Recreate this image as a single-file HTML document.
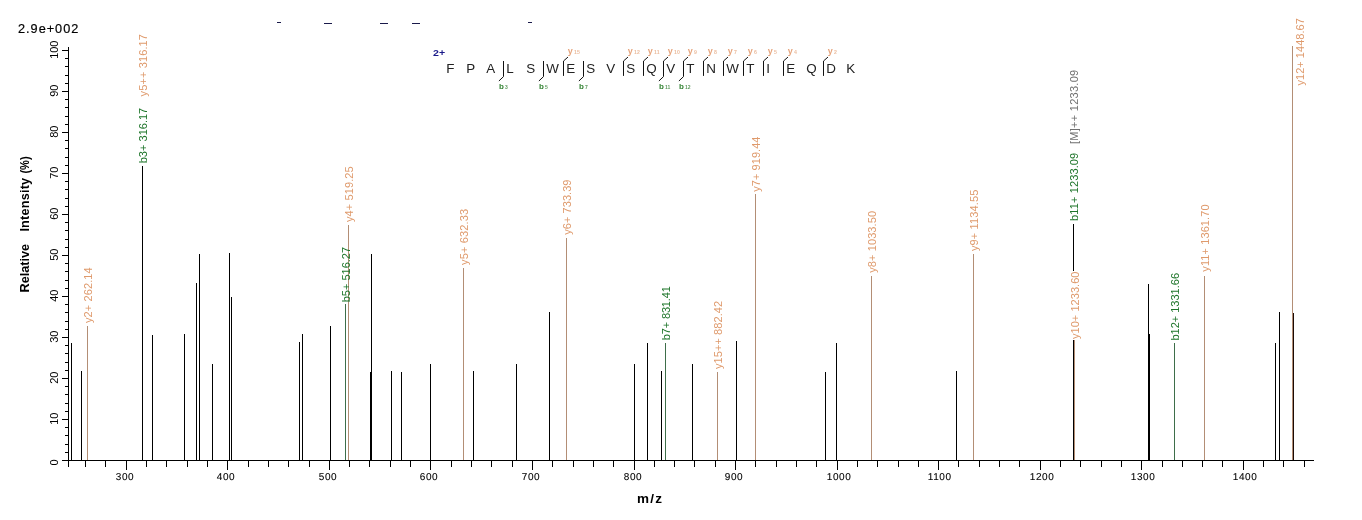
<!DOCTYPE html>
<html><head><meta charset="utf-8"><style>html,body{margin:0;padding:0;background:#fff;overflow:hidden}svg{display:block;will-change:transform}</style></head>
<body><svg width="1362" height="520" viewBox="0 0 1362 520" font-family='"Liberation Sans", sans-serif'>
<rect x="68" y="47" width="1" height="420" fill="#000"/>
<rect x="62" y="460" width="1252" height="1" fill="#000"/>
<rect x="62" y="460" width="6" height="1" fill="#000"/>
<rect x="65" y="452" width="3" height="1" fill="#000"/>
<rect x="65" y="444" width="3" height="1" fill="#000"/>
<rect x="65" y="435" width="3" height="1" fill="#000"/>
<rect x="65" y="427" width="3" height="1" fill="#000"/>
<rect x="62" y="419" width="6" height="1" fill="#000"/>
<rect x="65" y="411" width="3" height="1" fill="#000"/>
<rect x="65" y="403" width="3" height="1" fill="#000"/>
<rect x="65" y="394" width="3" height="1" fill="#000"/>
<rect x="65" y="386" width="3" height="1" fill="#000"/>
<rect x="62" y="378" width="6" height="1" fill="#000"/>
<rect x="65" y="370" width="3" height="1" fill="#000"/>
<rect x="65" y="362" width="3" height="1" fill="#000"/>
<rect x="65" y="353" width="3" height="1" fill="#000"/>
<rect x="65" y="345" width="3" height="1" fill="#000"/>
<rect x="62" y="337" width="6" height="1" fill="#000"/>
<rect x="65" y="329" width="3" height="1" fill="#000"/>
<rect x="65" y="321" width="3" height="1" fill="#000"/>
<rect x="65" y="312" width="3" height="1" fill="#000"/>
<rect x="65" y="304" width="3" height="1" fill="#000"/>
<rect x="62" y="296" width="6" height="1" fill="#000"/>
<rect x="65" y="288" width="3" height="1" fill="#000"/>
<rect x="65" y="280" width="3" height="1" fill="#000"/>
<rect x="65" y="271" width="3" height="1" fill="#000"/>
<rect x="65" y="263" width="3" height="1" fill="#000"/>
<rect x="62" y="255" width="6" height="1" fill="#000"/>
<rect x="65" y="247" width="3" height="1" fill="#000"/>
<rect x="65" y="239" width="3" height="1" fill="#000"/>
<rect x="65" y="230" width="3" height="1" fill="#000"/>
<rect x="65" y="222" width="3" height="1" fill="#000"/>
<rect x="62" y="214" width="6" height="1" fill="#000"/>
<rect x="65" y="206" width="3" height="1" fill="#000"/>
<rect x="65" y="198" width="3" height="1" fill="#000"/>
<rect x="65" y="189" width="3" height="1" fill="#000"/>
<rect x="65" y="181" width="3" height="1" fill="#000"/>
<rect x="62" y="173" width="6" height="1" fill="#000"/>
<rect x="65" y="165" width="3" height="1" fill="#000"/>
<rect x="65" y="157" width="3" height="1" fill="#000"/>
<rect x="65" y="148" width="3" height="1" fill="#000"/>
<rect x="65" y="140" width="3" height="1" fill="#000"/>
<rect x="62" y="132" width="6" height="1" fill="#000"/>
<rect x="65" y="124" width="3" height="1" fill="#000"/>
<rect x="65" y="116" width="3" height="1" fill="#000"/>
<rect x="65" y="107" width="3" height="1" fill="#000"/>
<rect x="65" y="99" width="3" height="1" fill="#000"/>
<rect x="62" y="91" width="6" height="1" fill="#000"/>
<rect x="65" y="83" width="3" height="1" fill="#000"/>
<rect x="65" y="75" width="3" height="1" fill="#000"/>
<rect x="65" y="66" width="3" height="1" fill="#000"/>
<rect x="65" y="58" width="3" height="1" fill="#000"/>
<rect x="62" y="50" width="6" height="1" fill="#000"/>
<rect x="85" y="461" width="1" height="6" fill="#000"/>
<rect x="105" y="461" width="1" height="6" fill="#000"/>
<rect x="126" y="461" width="1" height="9" fill="#000"/>
<rect x="146" y="461" width="1" height="6" fill="#000"/>
<rect x="166" y="461" width="1" height="6" fill="#000"/>
<rect x="187" y="461" width="1" height="6" fill="#000"/>
<rect x="207" y="461" width="1" height="6" fill="#000"/>
<rect x="227" y="461" width="1" height="9" fill="#000"/>
<rect x="248" y="461" width="1" height="6" fill="#000"/>
<rect x="268" y="461" width="1" height="6" fill="#000"/>
<rect x="288" y="461" width="1" height="6" fill="#000"/>
<rect x="309" y="461" width="1" height="6" fill="#000"/>
<rect x="329" y="461" width="1" height="9" fill="#000"/>
<rect x="349" y="461" width="1" height="6" fill="#000"/>
<rect x="369" y="461" width="1" height="6" fill="#000"/>
<rect x="390" y="461" width="1" height="6" fill="#000"/>
<rect x="410" y="461" width="1" height="6" fill="#000"/>
<rect x="430" y="461" width="1" height="9" fill="#000"/>
<rect x="451" y="461" width="1" height="6" fill="#000"/>
<rect x="471" y="461" width="1" height="6" fill="#000"/>
<rect x="491" y="461" width="1" height="6" fill="#000"/>
<rect x="512" y="461" width="1" height="6" fill="#000"/>
<rect x="532" y="461" width="1" height="9" fill="#000"/>
<rect x="552" y="461" width="1" height="6" fill="#000"/>
<rect x="573" y="461" width="1" height="6" fill="#000"/>
<rect x="593" y="461" width="1" height="6" fill="#000"/>
<rect x="613" y="461" width="1" height="6" fill="#000"/>
<rect x="634" y="461" width="1" height="9" fill="#000"/>
<rect x="654" y="461" width="1" height="6" fill="#000"/>
<rect x="674" y="461" width="1" height="6" fill="#000"/>
<rect x="694" y="461" width="1" height="6" fill="#000"/>
<rect x="715" y="461" width="1" height="6" fill="#000"/>
<rect x="735" y="461" width="1" height="9" fill="#000"/>
<rect x="755" y="461" width="1" height="6" fill="#000"/>
<rect x="776" y="461" width="1" height="6" fill="#000"/>
<rect x="796" y="461" width="1" height="6" fill="#000"/>
<rect x="816" y="461" width="1" height="6" fill="#000"/>
<rect x="837" y="461" width="1" height="9" fill="#000"/>
<rect x="857" y="461" width="1" height="6" fill="#000"/>
<rect x="877" y="461" width="1" height="6" fill="#000"/>
<rect x="898" y="461" width="1" height="6" fill="#000"/>
<rect x="918" y="461" width="1" height="6" fill="#000"/>
<rect x="938" y="461" width="1" height="9" fill="#000"/>
<rect x="958" y="461" width="1" height="6" fill="#000"/>
<rect x="979" y="461" width="1" height="6" fill="#000"/>
<rect x="999" y="461" width="1" height="6" fill="#000"/>
<rect x="1019" y="461" width="1" height="6" fill="#000"/>
<rect x="1040" y="461" width="1" height="9" fill="#000"/>
<rect x="1060" y="461" width="1" height="6" fill="#000"/>
<rect x="1080" y="461" width="1" height="6" fill="#000"/>
<rect x="1101" y="461" width="1" height="6" fill="#000"/>
<rect x="1121" y="461" width="1" height="6" fill="#000"/>
<rect x="1141" y="461" width="1" height="9" fill="#000"/>
<rect x="1162" y="461" width="1" height="6" fill="#000"/>
<rect x="1182" y="461" width="1" height="6" fill="#000"/>
<rect x="1202" y="461" width="1" height="6" fill="#000"/>
<rect x="1222" y="461" width="1" height="6" fill="#000"/>
<rect x="1243" y="461" width="1" height="9" fill="#000"/>
<rect x="1263" y="461" width="1" height="6" fill="#000"/>
<rect x="1283" y="461" width="1" height="6" fill="#000"/>
<rect x="1304" y="461" width="1" height="6" fill="#000"/>
<rect x="87" y="326" width="1" height="134" fill="#B38E75"/>
<rect x="348" y="225" width="1" height="235" fill="#B38E75"/>
<rect x="463" y="268" width="1" height="192" fill="#B38E75"/>
<rect x="566" y="238" width="1" height="222" fill="#B38E75"/>
<rect x="717" y="372" width="1" height="88" fill="#B38E75"/>
<rect x="755" y="194" width="1" height="266" fill="#B38E75"/>
<rect x="871" y="276" width="1" height="184" fill="#B38E75"/>
<rect x="973" y="254" width="1" height="206" fill="#B38E75"/>
<rect x="1074" y="340" width="1" height="120" fill="#B38E75"/>
<rect x="1204" y="276" width="1" height="184" fill="#B38E75"/>
<rect x="1292" y="46" width="1" height="414" fill="#B38E75"/>
<rect x="345" y="304" width="1" height="156" fill="#3E6E4A"/>
<rect x="665" y="343" width="1" height="117" fill="#3E6E4A"/>
<rect x="1174" y="343" width="1" height="117" fill="#3E6E4A"/>
<rect x="71" y="343" width="1" height="117" fill="#000"/>
<rect x="81" y="371" width="1" height="89" fill="#000"/>
<rect x="142" y="166" width="1" height="294" fill="#000"/>
<rect x="152" y="335" width="1" height="125" fill="#000"/>
<rect x="184" y="334" width="1" height="126" fill="#000"/>
<rect x="196" y="283" width="1" height="177" fill="#000"/>
<rect x="199" y="254" width="1" height="206" fill="#000"/>
<rect x="212" y="364" width="1" height="96" fill="#000"/>
<rect x="229" y="253" width="1" height="207" fill="#000"/>
<rect x="231" y="297" width="1" height="163" fill="#000"/>
<rect x="299" y="342" width="1" height="118" fill="#000"/>
<rect x="302" y="334" width="1" height="126" fill="#000"/>
<rect x="330" y="326" width="1" height="134" fill="#000"/>
<rect x="370" y="372" width="1" height="88" fill="#000"/>
<rect x="371" y="254" width="1" height="206" fill="#000"/>
<rect x="391" y="371" width="1" height="89" fill="#000"/>
<rect x="401" y="372" width="1" height="88" fill="#000"/>
<rect x="430" y="364" width="1" height="96" fill="#000"/>
<rect x="473" y="371" width="1" height="89" fill="#000"/>
<rect x="516" y="364" width="1" height="96" fill="#000"/>
<rect x="549" y="312" width="1" height="148" fill="#000"/>
<rect x="634" y="364" width="1" height="96" fill="#000"/>
<rect x="647" y="343" width="1" height="117" fill="#000"/>
<rect x="661" y="371" width="1" height="89" fill="#000"/>
<rect x="692" y="364" width="1" height="96" fill="#000"/>
<rect x="736" y="341" width="1" height="119" fill="#000"/>
<rect x="825" y="372" width="1" height="88" fill="#000"/>
<rect x="836" y="343" width="1" height="117" fill="#000"/>
<rect x="956" y="371" width="1" height="89" fill="#000"/>
<rect x="1073" y="224" width="1" height="236" fill="#000"/>
<rect x="1148" y="284" width="1" height="176" fill="#000"/>
<rect x="1149" y="334" width="1" height="126" fill="#000"/>
<rect x="1275" y="343" width="1" height="117" fill="#000"/>
<rect x="1279" y="312" width="1" height="148" fill="#000"/>
<rect x="1293" y="313" width="1" height="147" fill="#1a0a05"/>
<text transform="translate(91.5,323) rotate(-90)" font-size="11" letter-spacing="0.1" fill="#DF9A6C">y2+ 262.14</text>
<text transform="translate(146.5,163.3) rotate(-90)" font-size="11" letter-spacing="0.02" fill="#1E752A">b3+ 316.17</text>
<text transform="translate(146.5,96.5) rotate(-90)" font-size="11" letter-spacing="0.13" fill="#DF9A6C">y5++ 316.17</text>
<text transform="translate(349.5,302.3) rotate(-90)" font-size="11" letter-spacing="0" fill="#1E752A">b5+ 516.27</text>
<text transform="translate(352.5,222) rotate(-90)" font-size="11" letter-spacing="0.1" fill="#DF9A6C">y4+ 519.25</text>
<text transform="translate(467.5,265) rotate(-90)" font-size="11" letter-spacing="0.15" fill="#DF9A6C">y5+ 632.33</text>
<text transform="translate(570.5,234.7) rotate(-90)" font-size="11" letter-spacing="0.05" fill="#DF9A6C">y6+ 733.39</text>
<text transform="translate(669.5,340.3) rotate(-90)" font-size="11" letter-spacing="-0.13" fill="#1E752A">b7+ 831.41</text>
<text transform="translate(721.5,369) rotate(-90)" font-size="11" letter-spacing="0.08" fill="#DF9A6C">y15++ 882.42</text>
<text transform="translate(759.5,191.7) rotate(-90)" font-size="11" letter-spacing="0.05" fill="#DF9A6C">y7+ 919.44</text>
<text transform="translate(875.5,272.8) rotate(-90)" font-size="11" letter-spacing="0.1" fill="#DF9A6C">y8+ 1033.50</text>
<text transform="translate(977.5,251) rotate(-90)" font-size="11" letter-spacing="0.12" fill="#DF9A6C">y9+ 1134.55</text>
<text transform="translate(1077.5,144) rotate(-90)" font-size="11" letter-spacing="0.27" fill="#707070">[M]++ 1233.09</text>
<text transform="translate(1077.5,221) rotate(-90)" font-size="11" letter-spacing="0.13" fill="#1E752A">b11+ 1233.09</text>
<rect x="1071" y="271" width="9" height="69" fill="#fff"/>
<text transform="translate(1078.5,339) rotate(-90)" font-size="11" letter-spacing="0.04" fill="#DF9A6C">y10+ 1233.60</text>
<text transform="translate(1178.5,340.6) rotate(-90)" font-size="11" letter-spacing="0.0" fill="#1E752A">b12+ 1331.66</text>
<text transform="translate(1208.5,271.7) rotate(-90)" font-size="11" letter-spacing="0.1" fill="#DF9A6C">y11+ 1361.70</text>
<text transform="translate(1304.0,85.5) rotate(-90)" font-size="11" letter-spacing="0.03" fill="#DF9A6C">y12+ 1448.67</text>
<text transform="translate(57.8,462.5) rotate(-90)" font-size="11" text-anchor="middle" fill="#000">0</text>
<text transform="translate(57.8,418.7) rotate(-90)" font-size="11" text-anchor="middle" fill="#000">10</text>
<text transform="translate(57.8,377.7) rotate(-90)" font-size="11" text-anchor="middle" fill="#000">20</text>
<text transform="translate(57.8,336.7) rotate(-90)" font-size="11" text-anchor="middle" fill="#000">30</text>
<text transform="translate(57.8,295.7) rotate(-90)" font-size="11" text-anchor="middle" fill="#000">40</text>
<text transform="translate(57.8,254.7) rotate(-90)" font-size="11" text-anchor="middle" fill="#000">50</text>
<text transform="translate(57.8,213.7) rotate(-90)" font-size="11" text-anchor="middle" fill="#000">60</text>
<text transform="translate(57.8,172.7) rotate(-90)" font-size="11" text-anchor="middle" fill="#000">70</text>
<text transform="translate(57.8,131.7) rotate(-90)" font-size="11" text-anchor="middle" fill="#000">80</text>
<text transform="translate(57.8,90.7) rotate(-90)" font-size="11" text-anchor="middle" fill="#000">90</text>
<text transform="translate(57.8,49.7) rotate(-90)" font-size="11" text-anchor="middle" fill="#000">100</text>
<text transform="translate(28.8,292.5) rotate(-90)" font-size="12.7" font-weight="bold" fill="#000">Relative</text>
<text transform="translate(28.8,231.6) rotate(-90)" font-size="12.7" letter-spacing="0.2" font-weight="bold" fill="#000">Intensity</text>
<text transform="translate(28.8,173.6) rotate(-90) scale(0.87,1)" font-size="12.7" font-weight="bold" fill="#000">(%)</text>
<text x="115.7" y="479.9" font-size="10" letter-spacing="0.65" fill="#000" stroke="#000" stroke-width="0.1" text-rendering="geometricPrecision">300</text>
<text x="216.7" y="479.9" font-size="10" letter-spacing="0.65" fill="#000" stroke="#000" stroke-width="0.1" text-rendering="geometricPrecision">400</text>
<text x="318.7" y="479.9" font-size="10" letter-spacing="0.65" fill="#000" stroke="#000" stroke-width="0.1" text-rendering="geometricPrecision">500</text>
<text x="419.7" y="479.9" font-size="10" letter-spacing="0.65" fill="#000" stroke="#000" stroke-width="0.1" text-rendering="geometricPrecision">600</text>
<text x="521.7" y="479.9" font-size="10" letter-spacing="0.65" fill="#000" stroke="#000" stroke-width="0.1" text-rendering="geometricPrecision">700</text>
<text x="623.7" y="479.9" font-size="10" letter-spacing="0.65" fill="#000" stroke="#000" stroke-width="0.1" text-rendering="geometricPrecision">800</text>
<text x="724.7" y="479.9" font-size="10" letter-spacing="0.65" fill="#000" stroke="#000" stroke-width="0.1" text-rendering="geometricPrecision">900</text>
<text x="826.7" y="479.9" font-size="10" letter-spacing="0.65" fill="#000" stroke="#000" stroke-width="0.1" text-rendering="geometricPrecision">1000</text>
<text x="927.7" y="479.9" font-size="10" letter-spacing="0.65" fill="#000" stroke="#000" stroke-width="0.1" text-rendering="geometricPrecision">1100</text>
<text x="1029.7" y="479.9" font-size="10" letter-spacing="0.65" fill="#000" stroke="#000" stroke-width="0.1" text-rendering="geometricPrecision">1200</text>
<text x="1130.7" y="479.9" font-size="10" letter-spacing="0.65" fill="#000" stroke="#000" stroke-width="0.1" text-rendering="geometricPrecision">1300</text>
<text x="1232.7" y="479.9" font-size="10" letter-spacing="0.65" fill="#000" stroke="#000" stroke-width="0.1" text-rendering="geometricPrecision">1400</text>
<text x="637" y="502.8" font-size="13.5" letter-spacing="1.2" font-weight="bold" fill="#000">m/z</text>
<text x="18" y="32.9" font-size="12.7" letter-spacing="1.0" fill="#000" stroke="#000" stroke-width="0.2">2.9e+002</text>
<rect x="277" y="22" width="4" height="1" fill="#1a1a4a"/>
<rect x="324" y="23" width="8" height="1" fill="#1a1a4a"/>
<rect x="380" y="23" width="8" height="1" fill="#1a1a4a"/>
<rect x="412" y="23" width="8" height="1" fill="#1a1a4a"/>
<rect x="528" y="22" width="4" height="1" fill="#1a1a4a"/>
<text transform="translate(446.3,72.8) scale(1.1,1)" font-size="12.2" fill="#222">F</text>
<text transform="translate(466.3,72.8) scale(1.1,1)" font-size="12.2" fill="#222">P</text>
<text transform="translate(486.3,72.8) scale(1.1,1)" font-size="12.2" fill="#222">A</text>
<text transform="translate(506.3,72.8) scale(1.1,1)" font-size="12.2" fill="#222">L</text>
<text transform="translate(526.3,72.8) scale(1.1,1)" font-size="12.2" fill="#222">S</text>
<text transform="translate(546.3,72.8) scale(1.1,1)" font-size="12.2" fill="#222">W</text>
<text transform="translate(566.3,72.8) scale(1.1,1)" font-size="12.2" fill="#222">E</text>
<text transform="translate(586.3,72.8) scale(1.1,1)" font-size="12.2" fill="#222">S</text>
<text transform="translate(606.3,72.8) scale(1.1,1)" font-size="12.2" fill="#222">V</text>
<text transform="translate(626.3,72.8) scale(1.1,1)" font-size="12.2" fill="#222">S</text>
<text transform="translate(646.3,72.8) scale(1.1,1)" font-size="12.2" fill="#222">Q</text>
<text transform="translate(666.3,72.8) scale(1.1,1)" font-size="12.2" fill="#222">V</text>
<text transform="translate(686.3,72.8) scale(1.1,1)" font-size="12.2" fill="#222">T</text>
<text transform="translate(706.3,72.8) scale(1.1,1)" font-size="12.2" fill="#222">N</text>
<text transform="translate(726.3,72.8) scale(1.1,1)" font-size="12.2" fill="#222">W</text>
<text transform="translate(746.3,72.8) scale(1.1,1)" font-size="12.2" fill="#222">T</text>
<text transform="translate(766.3,72.8) scale(1.1,1)" font-size="12.2" fill="#222">I</text>
<text transform="translate(786.3,72.8) scale(1.1,1)" font-size="12.2" fill="#222">E</text>
<text transform="translate(806.3,72.8) scale(1.1,1)" font-size="12.2" fill="#222">Q</text>
<text transform="translate(826.3,72.8) scale(1.1,1)" font-size="12.2" fill="#222">D</text>
<text transform="translate(846.3,72.8) scale(1.1,1)" font-size="12.2" fill="#222">K</text>
<text transform="translate(433,56) scale(1.13,1)" font-size="9.4" font-weight="bold" fill="#1a1a8a">2+</text>
<path d="M503.5,61 L503.5,76.6 M503.5,76.6 L498.9,81" stroke="#111" stroke-width="1" fill="none"/>
<text x="498.9" y="88.8" font-size="8" font-weight="bold" fill="#348434">b<tspan dx="1.1" font-size="5" fill="#5F9A5F">3</tspan></text>
<path d="M543.5,61 L543.5,76.6 M543.5,76.6 L538.9,81" stroke="#111" stroke-width="1" fill="none"/>
<text x="538.9" y="88.8" font-size="8" font-weight="bold" fill="#348434">b<tspan dx="1.1" font-size="5" fill="#5F9A5F">5</tspan></text>
<path d="M563.5,61 L563.5,75.9 M563.5,61 L568.0,57" stroke="#111" stroke-width="1" fill="none"/>
<text x="567.7" y="53.7" font-size="9" font-weight="bold" fill="#E6A47C">y<tspan dx="1.4" font-size="5.2" fill="#EBBC9E">15</tspan></text>
<path d="M583.5,61 L583.5,76.6 M583.5,76.6 L578.9,81" stroke="#111" stroke-width="1" fill="none"/>
<text x="578.9" y="88.8" font-size="8" font-weight="bold" fill="#348434">b<tspan dx="1.1" font-size="5" fill="#5F9A5F">7</tspan></text>
<path d="M623.5,61 L623.5,75.9 M623.5,61 L628.0,57" stroke="#111" stroke-width="1" fill="none"/>
<text x="627.7" y="53.7" font-size="9" font-weight="bold" fill="#E6A47C">y<tspan dx="1.4" font-size="5.2" fill="#EBBC9E">12</tspan></text>
<path d="M643.5,61 L643.5,75.9 M643.5,61 L648.0,57" stroke="#111" stroke-width="1" fill="none"/>
<text x="647.7" y="53.7" font-size="9" font-weight="bold" fill="#E6A47C">y<tspan dx="1.4" font-size="5.2" fill="#EBBC9E">11</tspan></text>
<path d="M663.5,61 L663.5,76.6 M663.5,76.6 L658.9,81 M663.5,61 L668.0,57" stroke="#111" stroke-width="1" fill="none"/>
<text x="658.9" y="88.8" font-size="8" font-weight="bold" fill="#348434">b<tspan dx="1.1" font-size="5" fill="#5F9A5F">11</tspan></text>
<text x="667.7" y="53.7" font-size="9" font-weight="bold" fill="#E6A47C">y<tspan dx="1.4" font-size="5.2" fill="#EBBC9E">10</tspan></text>
<path d="M683.5,61 L683.5,76.6 M683.5,76.6 L678.9,81 M683.5,61 L688.0,57" stroke="#111" stroke-width="1" fill="none"/>
<text x="678.9" y="88.8" font-size="8" font-weight="bold" fill="#348434">b<tspan dx="1.1" font-size="5" fill="#5F9A5F">12</tspan></text>
<text x="687.7" y="53.7" font-size="9" font-weight="bold" fill="#E6A47C">y<tspan dx="1.4" font-size="5.2" fill="#EBBC9E">9</tspan></text>
<path d="M703.5,61 L703.5,75.9 M703.5,61 L708.0,57" stroke="#111" stroke-width="1" fill="none"/>
<text x="707.7" y="53.7" font-size="9" font-weight="bold" fill="#E6A47C">y<tspan dx="1.4" font-size="5.2" fill="#EBBC9E">8</tspan></text>
<path d="M723.5,61 L723.5,75.9 M723.5,61 L728.0,57" stroke="#111" stroke-width="1" fill="none"/>
<text x="727.7" y="53.7" font-size="9" font-weight="bold" fill="#E6A47C">y<tspan dx="1.4" font-size="5.2" fill="#EBBC9E">7</tspan></text>
<path d="M743.5,61 L743.5,75.9 M743.5,61 L748.0,57" stroke="#111" stroke-width="1" fill="none"/>
<text x="747.7" y="53.7" font-size="9" font-weight="bold" fill="#E6A47C">y<tspan dx="1.4" font-size="5.2" fill="#EBBC9E">6</tspan></text>
<path d="M763.5,61 L763.5,75.9 M763.5,61 L768.0,57" stroke="#111" stroke-width="1" fill="none"/>
<text x="767.7" y="53.7" font-size="9" font-weight="bold" fill="#E6A47C">y<tspan dx="1.4" font-size="5.2" fill="#EBBC9E">5</tspan></text>
<path d="M783.5,61 L783.5,75.9 M783.5,61 L788.0,57" stroke="#111" stroke-width="1" fill="none"/>
<text x="787.7" y="53.7" font-size="9" font-weight="bold" fill="#E6A47C">y<tspan dx="1.4" font-size="5.2" fill="#EBBC9E">4</tspan></text>
<path d="M823.5,61 L823.5,75.9 M823.5,61 L828.0,57" stroke="#111" stroke-width="1" fill="none"/>
<text x="827.7" y="53.7" font-size="9" font-weight="bold" fill="#E6A47C">y<tspan dx="1.4" font-size="5.2" fill="#EBBC9E">2</tspan></text>
</svg></body></html>
